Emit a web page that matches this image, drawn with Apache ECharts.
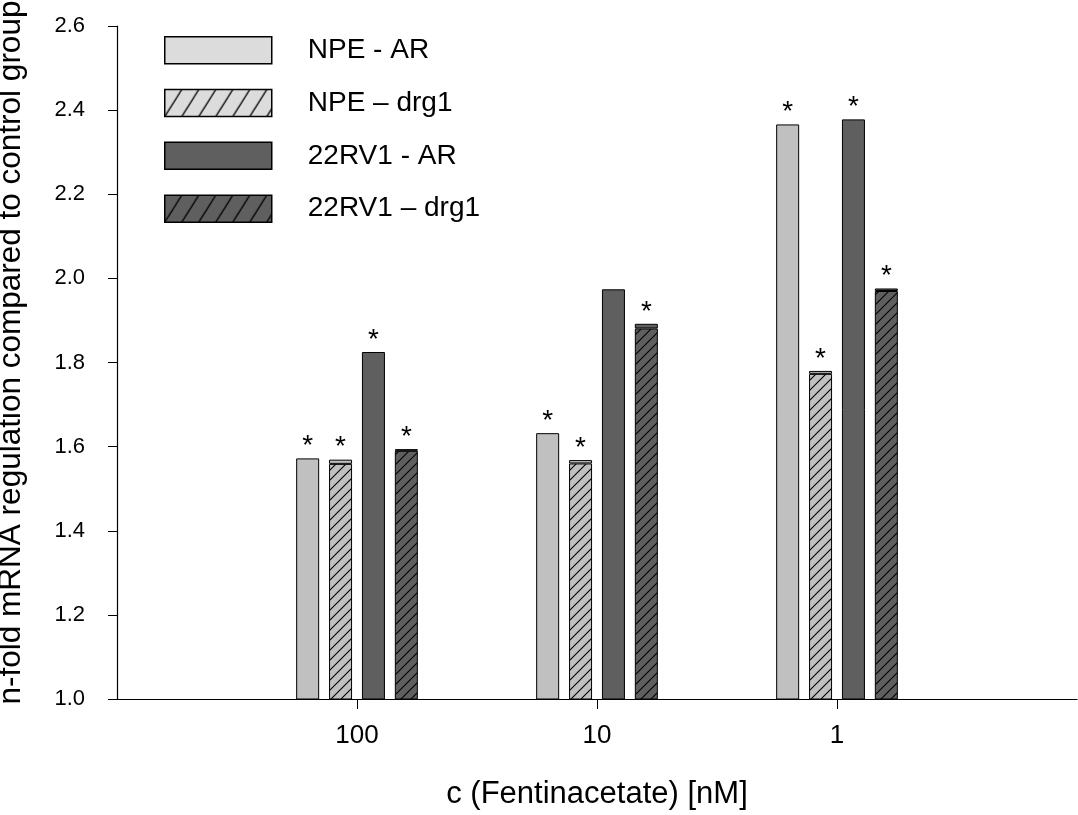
<!DOCTYPE html>
<html>
<head>
<meta charset="utf-8">
<script src="https://cdn.jsdelivr.net/npm/echarts@6/dist/echarts.min.js"></script>
<style>
  html, body { margin: 0; padding: 0; background: #fff; }
  #chart { width: 1078px; height: 815px; }
</style>
</head>
<body>
<div id="chart"></div>
<script>
// Concentrations (nM); empty slots pad both ends of the axis
const categories = ['', '100', '10', '1', ''];
const yTicks = ['1.0', '1.2', '1.4', '1.6', '1.8', '2.0', '2.2', '2.4', '2.6'];

// n-fold regulation per concentration (100, 10, 1 nM)
const npeAR      = [1.572, 1.632, 2.366];
const npeDrg1    = [1.569, 1.568, 1.780];
const npeDrg1Low = [1.559, 1.560, 1.773];   // top of the hatched part
const rvAR       = [1.825, 1.974, 2.378];
const rvDrg1     = [1.594, 1.892, 1.976];
const rvDrg1Low  = [1.590, 1.881, 1.970];   // top of the hatched part

// significance marks (*) per bar
const sigNpeAR   = [true, true, true];
const sigNpeDrg1 = [true, true, true];
const sigRvAR    = [true, false, true];
const sigRvDrg1  = [true, true, true];

const names = ['NPE - AR', 'NPE \u2013 drg1', '22RV1 - AR', '22RV1 \u2013 drg1'];

const LIGHT = '#c0c0c0';
const DARK = '#5f5f5f';
const LEGEND_LIGHT = '#dcdcdc';
const FONT = 'Liberation Sans, Arial, sans-serif';

function hatch(bg, w, h, lw) {
  const c = document.createElement('canvas');
  c.width = w; c.height = h;
  const ctx = c.getContext('2d');
  ctx.fillStyle = bg;
  ctx.fillRect(0, 0, w, h);
  ctx.strokeStyle = '#000';
  ctx.lineWidth = lw;
  ctx.beginPath();
  ctx.moveTo(-w, 2 * h); ctx.lineTo(2 * w, -h);
  ctx.moveTo(-w, h); ctx.lineTo(w, -h);
  ctx.moveTo(0, 2 * h); ctx.lineTo(2 * w, 0);
  ctx.stroke();
  return { image: c, repeat: 'repeat' };
}

const pad = arr => ['-'].concat(arr, ['-']);
const withStars = (vals, sig) => pad(vals.map((v, i) => ({
  value: v, label: { show: sig[i] }
})));
const diff = (a, b) => a.map((v, i) => +(v - b[i]).toFixed(4));

const starLabel = {
  show: true, position: 'top', distance: -2, formatter: '*',
  color: '#000', fontSize: 28, fontFamily: FONT
};
const border = { borderColor: '#000', borderWidth: 1 };
const legendBorder = { borderColor: '#000', borderWidth: 1.5 };

const chart = echarts.init(document.getElementById('chart'), null, { renderer: 'canvas' });
chart.setOption({
  animation: false,
  backgroundColor: '#fff',
  textStyle: { fontFamily: FONT, color: '#000' },
  grid: { left: 117, right: 1, top: 26, bottom: 116, containLabel: false, outerBoundsMode: 'none' },
  legend: {
    orient: 'vertical', left: 159, top: 31,
    itemWidth: 107, itemHeight: 27, itemGap: 24.3,
    icon: 'rect',
    textStyle: { fontSize: 28, lineHeight: 27, color: '#000', padding: [0, 0, 0, 31] },
    data: [
      { name: names[0], itemStyle: Object.assign({ color: LEGEND_LIGHT }, legendBorder) },
      { name: names[1], itemStyle: Object.assign({ color: hatch(LEGEND_LIGHT, 17, 27, 1.3) }, legendBorder) },
      { name: names[2], itemStyle: Object.assign({ color: DARK }, legendBorder) },
      { name: names[3], itemStyle: Object.assign({ color: hatch(DARK, 17, 27, 1.3) }, legendBorder) }
    ]
  },
  xAxis: {
    type: 'category', data: categories, boundaryGap: false,
    axisLine: { lineStyle: { color: '#000', width: 1.2 } },
    axisTick: { length: 10, interval: i => i > 0 && i < categories.length - 1, lineStyle: { color: '#000' } },
    axisLabel: { fontSize: 26, color: '#000', margin: 24, interval: 0 },
    name: 'c (Fentinacetate) [nM]', nameLocation: 'middle', nameGap: 80,
    nameTextStyle: { fontSize: 31, color: '#000' }
  },
  yAxis: {
    type: 'value', min: 1.0, max: 2.6, interval: 0.2,
    axisLine: { show: true, lineStyle: { color: '#000', width: 1.2 } },
    axisTick: { show: true, length: 9, lineStyle: { color: '#000' } },
    splitLine: { show: false },
    axisLabel: { fontSize: 22, color: '#000', margin: 32,
      formatter: v => yTicks[Math.round((v - 1.0) / 0.2)] },
    name: 'n-fold mRNA regulation compared to control group',
    nameLocation: 'middle', nameGap: 90,
    nameTextStyle: { fontSize: 31.5, color: '#000', padding: [0, 0, 0, 20] }
  },
  series: [
    { name: names[0], type: 'bar', barWidth: 23, barGap: '43%',
      itemStyle: Object.assign({ color: LIGHT }, border),
      label: starLabel, data: withStars(npeAR, sigNpeAR) },
    { name: names[1], type: 'bar', stack: 'npe', barWidth: 23, barGap: '43%',
      itemStyle: Object.assign({ color: hatch(LIGHT, 10, 10, 1.1) }, border),
      data: pad(npeDrg1Low) },
    { name: names[1] + ' cap', type: 'bar', stack: 'npe', barWidth: 23, barGap: '43%',
      itemStyle: Object.assign({ color: LIGHT }, border),
      label: starLabel, data: withStars(diff(npeDrg1, npeDrg1Low), sigNpeDrg1) },
    { name: names[2], type: 'bar', barWidth: 23, barGap: '43%',
      itemStyle: Object.assign({ color: DARK }, border),
      label: starLabel, data: withStars(rvAR, sigRvAR) },
    { name: names[3], type: 'bar', stack: 'rv', barWidth: 23, barGap: '43%',
      itemStyle: Object.assign({ color: hatch(DARK, 10, 10, 1.1) }, border),
      data: pad(rvDrg1Low) },
    { name: names[3] + ' cap', type: 'bar', stack: 'rv', barWidth: 23, barGap: '43%',
      itemStyle: Object.assign({ color: DARK }, border),
      label: starLabel, data: withStars(diff(rvDrg1, rvDrg1Low), sigRvDrg1) }
  ]
});
</script>
</body>
</html>
